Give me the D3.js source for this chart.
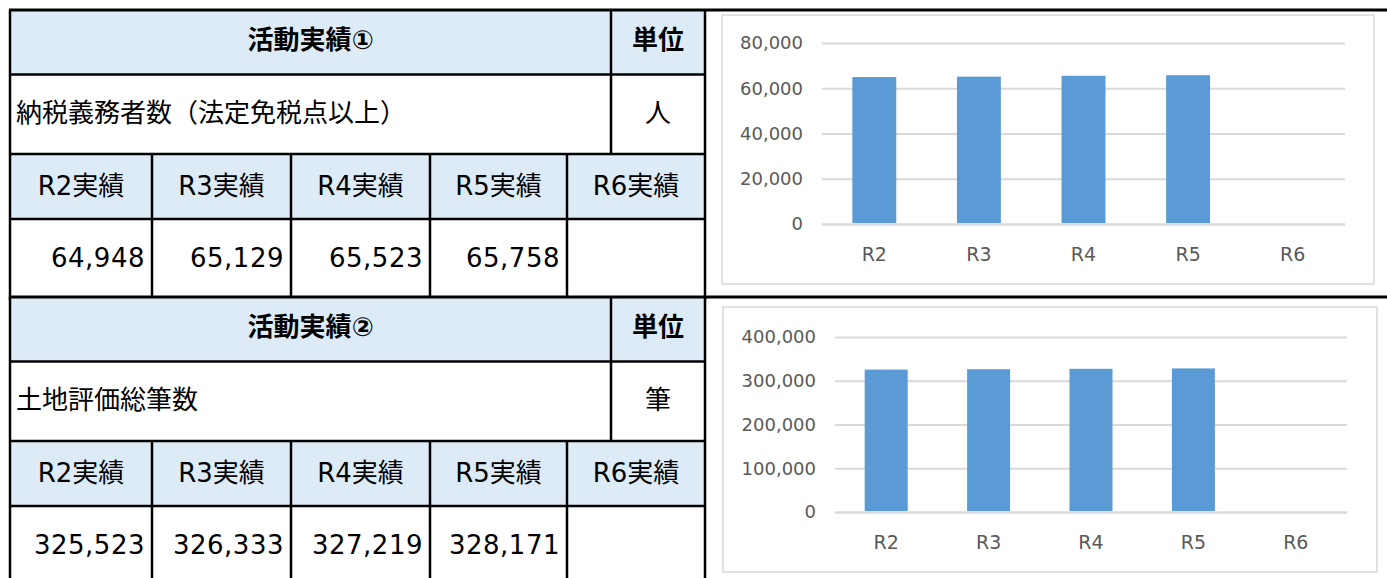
<!DOCTYPE html>
<html>
<head>
<meta charset="utf-8">
<script src="https://cdn.jsdelivr.net/npm/d3@7"></script>
<style>
  body { margin: 0; background: #fff; }
  svg text { font-family: "DejaVu Sans", "Noto Sans CJK JP", sans-serif; }
</style>
</head>
<body>
<svg id="chart"></svg>
<script>
// data
const years = ["R2", "R3", "R4", "R5", "R6"];
const yearHeaders = ["R2実績", "R3実績", "R4実績", "R5実績", "R6実績"];

const titles = ["活動実績①", "活動実績②"];
const unitHeader = "単位";
const labels = ["納税義務者数（法定免税点以上）", "土地評価総筆数"];
const units = ["人", "筆"];

const values1 = [64948, 65129, 65523, 65758, null];
const values2 = [325523, 326333, 327219, 328171, null];

const ticks1 = [0, 20000, 40000, 60000, 80000];
const ticks2 = [0, 100000, 200000, 300000, 400000];

const width = 1387;
const height = 578;
const fmt = d3.format(",");

const svg = d3.select("#chart")
  .attr("width", width)
  .attr("height", height);

// table layout
const colX = [10, 152, 291, 430, 567, 705];
const unitX = 611;
const rowY = [0, 64.5, 144, 209, 290];   // relative to block top
const blockTops = [10, 297];
const headFill = "#ddebf7";

function drawBlock(top, title, label, unit, vals) {
  const g = svg.append("g").attr("transform", `translate(0,${top})`);

  // header fills
  g.append("rect").attr("x", colX[0]).attr("y", rowY[0])
    .attr("width", colX[5] - colX[0]).attr("height", rowY[1] - rowY[0])
    .attr("fill", headFill);
  g.append("rect").attr("x", colX[0]).attr("y", rowY[2])
    .attr("width", colX[5] - colX[0]).attr("height", rowY[3] - rowY[2])
    .attr("fill", headFill);

  const line = (x1, y1, x2, y2, w) => g.append("line")
    .attr("x1", x1).attr("y1", y1).attr("x2", x2).attr("y2", y2)
    .attr("stroke", "#000").attr("stroke-width", w || 2.5);

  // horizontal lines
  line(colX[0] - 1, rowY[0], width, rowY[0], 3);
  line(colX[0], rowY[1], colX[5], rowY[1]);
  line(colX[0], rowY[2], colX[5], rowY[2]);
  line(colX[0], rowY[3], colX[5], rowY[3]);
  // vertical lines
  line(colX[0], rowY[0], colX[0], rowY[4]);
  line(colX[5], rowY[0], colX[5], rowY[4]);
  line(unitX, rowY[0], unitX, rowY[2]);
  colX.slice(1, 5).forEach(x => line(x, rowY[2], x, rowY[4]));

  // texts
  g.append("text").attr("x", (colX[0] + unitX) / 2).attr("y", rowY[0] + 30)
    .attr("text-anchor", "middle").attr("dominant-baseline", "central")
    .attr("font-size", 26).attr("font-weight", "bold").attr("fill", "#000")
    .text(title);
  g.append("text").attr("x", (unitX + colX[5]) / 2).attr("y", rowY[0] + 30)
    .attr("text-anchor", "middle").attr("dominant-baseline", "central")
    .attr("font-size", 26).attr("font-weight", "bold").attr("fill", "#000")
    .text(unitHeader);
  g.append("text").attr("x", colX[0] + 6).attr("y", rowY[1] + 38)
    .attr("dominant-baseline", "central")
    .attr("font-size", 26).attr("fill", "#000")
    .text(label);
  g.append("text").attr("x", (unitX + colX[5]) / 2).attr("y", rowY[1] + 38)
    .attr("text-anchor", "middle").attr("dominant-baseline", "central")
    .attr("font-size", 26).attr("fill", "#000")
    .text(unit);

  g.selectAll("text.yh").data(yearHeaders).enter()
    .append("text").attr("class", "yh")
    .attr("x", (d, i) => (colX[i] + colX[i + 1]) / 2)
    .attr("y", rowY[2] + 32)
    .attr("text-anchor", "middle").attr("dominant-baseline", "central")
    .attr("font-size", 26).attr("fill", "#000")
    .text(d => d);

  g.selectAll("text.val").data(vals).enter()
    .append("text").attr("class", "val")
    .attr("x", (d, i) => colX[i + 1] - 7)
    .attr("y", rowY[3] + 39)
    .attr("text-anchor", "end").attr("dominant-baseline", "central")
    .attr("font-size", 26).attr("fill", "#000")
    .attr("letter-spacing", 0.5)
    .text(d => d == null ? "" : fmt(d));
}

drawBlock(blockTops[0], titles[0], labels[0], units[0], values1);
drawBlock(blockTops[1], titles[1], labels[1], units[1], values2);

// charts
function drawChart(box, plot, vals, ticks) {
  svg.append("rect")
    .attr("x", box.x).attr("y", box.y)
    .attr("width", box.w).attr("height", box.h)
    .attr("fill", "#fff").attr("stroke", "#d9d9d9").attr("stroke-width", 1.5);

  const x = d3.scaleBand().domain(years).range([plot.x0, plot.x1]).paddingInner(0.58).paddingOuter(0.29);
  const y = d3.scaleLinear().domain([0, d3.max(ticks)]).range([plot.y0, plot.y1]);

  const yAxis = svg.append("g")
    .attr("transform", `translate(${plot.x0},0)`)
    .call(d3.axisLeft(y).tickValues(ticks).tickFormat(fmt)
      .tickSize(-(plot.x1 - plot.x0)).tickPadding(19));
  yAxis.select(".domain").remove();
  yAxis.selectAll(".tick line")
    .attr("stroke", "#d9d9d9")
    .attr("stroke-width", d => d === 0 ? 2.5 : 1.8);
  yAxis.selectAll(".tick text")
    .attr("fill", "#595959").attr("font-size", 18)
    .style("font-family", '"DejaVu Sans", sans-serif');

  svg.append("g").selectAll("rect")
    .data(years.map((c, i) => ({ c, v: vals[i] })).filter(d => d.v != null))
    .enter().append("rect")
    .attr("x", d => x(d.c))
    .attr("y", d => y(d.v))
    .attr("width", x.bandwidth())
    .attr("height", d => y(0) - y(d.v) - 1)
    .attr("fill", "#5b9bd5");

  const xAxis = svg.append("g")
    .attr("transform", `translate(0,${plot.y0})`)
    .call(d3.axisBottom(x).tickSize(0).tickPadding(plot.labelGap));
  xAxis.select(".domain").remove();
  xAxis.selectAll(".tick text")
    .attr("fill", "#595959").attr("font-size", 19)
    .style("font-family", '"DejaVu Sans", sans-serif');
}

drawChart({ x: 722, y: 15, w: 652, h: 269 },
  { x0: 822, x1: 1345, y0: 224, y1: 43, labelGap: 24 }, values1, ticks1);
drawChart({ x: 723, y: 307, w: 654, h: 265 },
  { x0: 835, x1: 1347, y0: 512, y1: 337, labelGap: 24 }, values2, ticks2);
</script>
</body>
</html>
